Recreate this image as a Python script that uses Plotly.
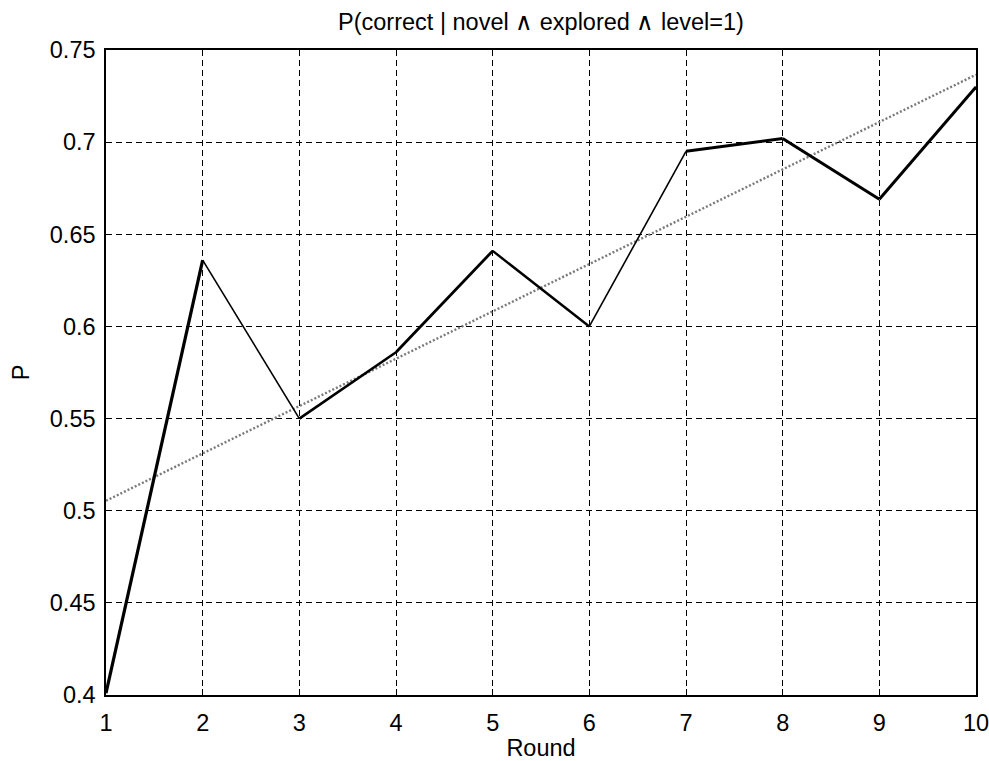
import numpy as np
import plotly.graph_objects as go

rounds = [1, 2, 3, 4, 5, 6, 7, 8, 9, 10]
p_values = [0.401, 0.636, 0.550, 0.586, 0.641, 0.600, 0.695, 0.702, 0.669, 0.730]
y_ticks = [0.4, 0.45, 0.5, 0.55, 0.6, 0.65, 0.7, 0.75]
x_ticks = rounds

title_text = "P(correct | novel \u2227 explored \u2227 level=1)"

# rendering widths of each segment (matches the uneven look of the original)
seg_widths = [3.2, 1.6, 2.6, 2.8, 2.4, 1.6, 3.0, 3.0, 3.0]

FONT = "Liberation Sans, Arial, sans-serif"

fig = go.Figure()

# least-squares trend line
coef = np.polyfit(rounds, p_values, 1)
trend_x = [rounds[0], rounds[-1]]
trend_y = list(np.polyval(coef, trend_x))
fig.add_trace(go.Scatter(x=trend_x, y=trend_y, mode="lines",
                         line=dict(color="#7a7a7a", width=2.4, dash="2px,2px"),
                         showlegend=False, hoverinfo="skip"))

for i in range(len(rounds) - 1):
    fig.add_trace(go.Scatter(x=rounds[i:i + 2], y=p_values[i:i + 2], mode="lines",
                             line=dict(color="black", width=seg_widths[i]),
                             showlegend=False))

axis_common = dict(showline=True, linecolor="black", linewidth=1.5, mirror="ticks",
                   ticks="inside", ticklen=6, tickcolor="black", automargin=False,
                   ticklabeloverflow="allow",
                   showgrid=True, gridcolor="black", griddash="6px,4px", gridwidth=1,
                   zeroline=False, tickfont=dict(family=FONT, size=23.5, color="black"))

fig.update_xaxes(range=[1, 10], tickvals=x_ticks, ticklabelstandoff=6,
                 title=dict(text="Round", font=dict(family=FONT, size=23.5, color="black"),
                            standoff=8),
                 **axis_common)
fig.update_yaxes(range=[0.4, 0.75], tickvals=y_ticks, ticklabelstandoff=4,
                 title=dict(text="P", font=dict(family=FONT, size=23.5, color="black"),
                            standoff=14),
                 **axis_common)

fig.update_layout(
    width=989, height=761,
    margin=dict(l=106, r=13, t=50, b=66),
    paper_bgcolor="white", plot_bgcolor="white",
    title=dict(text=title_text, x=0.547, xanchor="center", y=0.971, yanchor="middle",
               font=dict(family=FONT, size=23.5, color="black")),
    font=dict(family=FONT, color="black"),
)

fig.write_html("out.html")
